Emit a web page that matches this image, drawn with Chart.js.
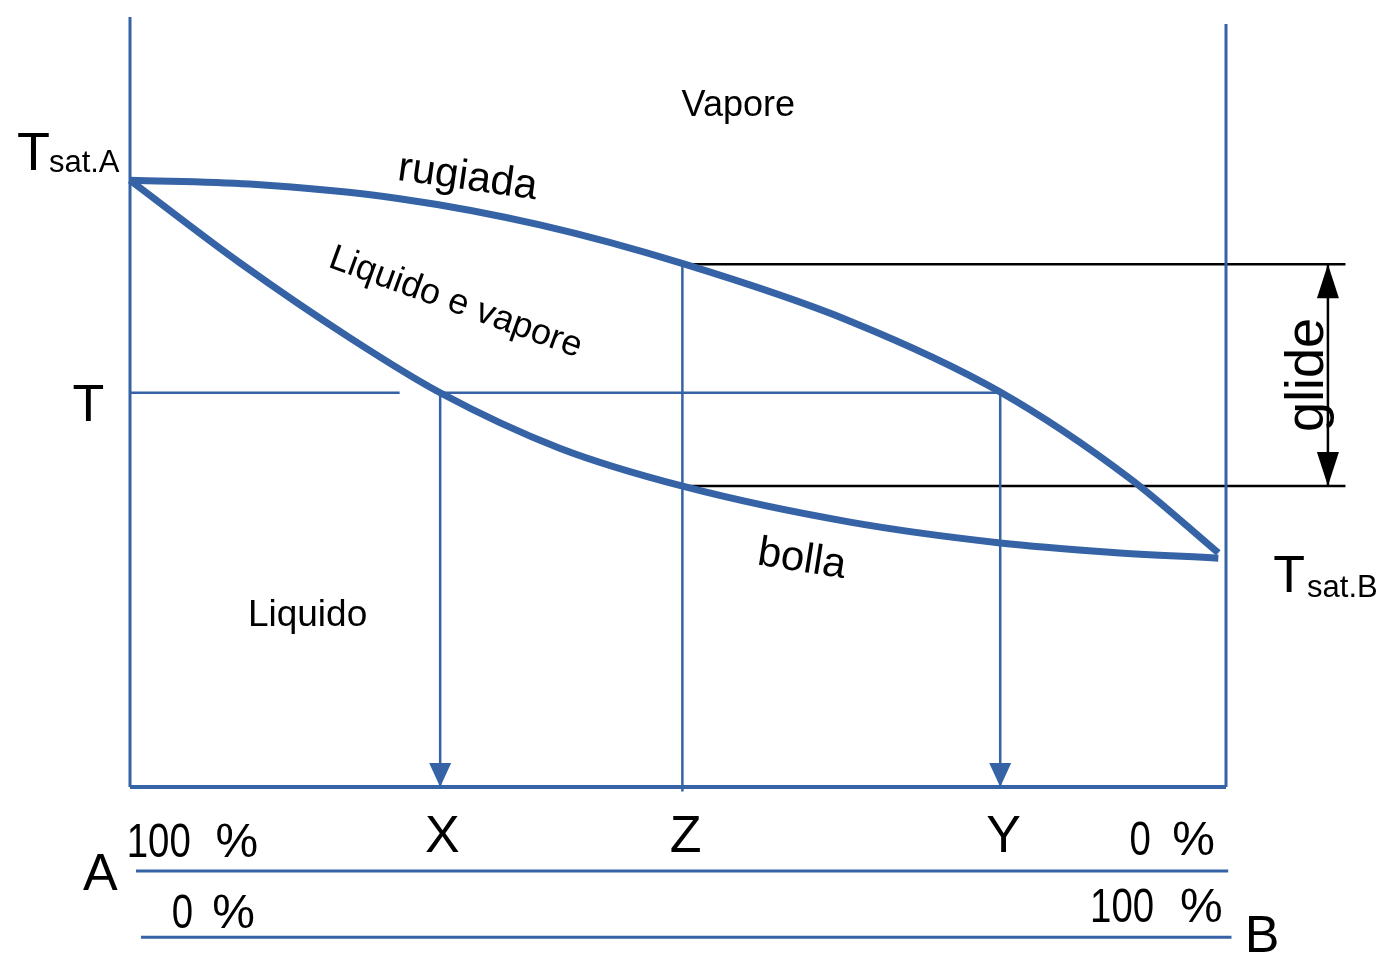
<!DOCTYPE html>
<html>
<head>
<meta charset="utf-8">
<script src="https://cdn.jsdelivr.net/npm/chart.js@4/dist/chart.umd.min.js"></script>
<style>
  body { margin: 0; background: #fff; }
  canvas { display: block; }
</style>
</head>
<body>
<canvas id="diagram__canvas" width="1384" height="955"></canvas>
<script>
// composition of B (%) and temperature (arbitrary units, 0 = base line)
const dewComp = [0, 10.9, 24.6, 37.4, 50.6, 65.7, 79.4, 91.2, 99.3];
const dewTemp = [78.8, 78.3, 76.4, 73.0, 67.9, 60.5, 51.3, 40.1, 30.4];
const bubbleComp = [0, 10.0, 20.1, 28.3, 39.2, 50.6, 65.7, 79.4, 89.4, 99.3];
const bubbleTemp = [78.8, 68.1, 58.3, 51.2, 44.0, 39.0, 34.4, 31.7, 30.5, 29.7];

// the reading points
const tLevel = 51.2;
const xComp = 28.3;
const zComp = 50.4;
const yComp = 79.4;
const glideTop = 67.9;
const glideBottom = 39.1;

const BLUE = "#3563a5";
const FONT = "'Liberation Sans', Arial, sans-serif";

function pts(xs, ys) {
  return xs.map((x, i) => ({ x: x, y: ys[i] }));
}

function seg(x1, y1, x2, y2, color, width, extra) {
  return Object.assign({
    data: [{ x: x1, y: y1 }, { x: x2, y: y2 }],
    borderColor: color,
    backgroundColor: color,
    borderWidth: width,
    pointRadius: 0,
    showLine: true,
    clip: false,
  }, extra || {});
}

// text annotations, placed in data units
const annotations = [
  { text: "T", x: -10.3, y: 80.1, size: 54 },
  { text: "sat.A", x: -7.4, y: 79.9, size: 31 },
  { text: "T", x: -3.8, y: 47.5, size: 52, align: "center" },
  { text: "T", x: 104.3, y: 25.3, size: 52 },
  { text: "sat.B", x: 107.4, y: 24.7, size: 31 },
  { text: "Vapore", x: 55.5, y: 88.4, size: 36, align: "center", base: "middle" },
  { text: "rugiada", x: 30.8, y: 79.1, size: 42, align: "center", base: "middle", rot: 8 },
  { text: "Liquido e vapore", x: 29.7, y: 62.9, size: 36, align: "center", base: "middle", rot: 20 },
  { text: "bolla", x: 61.3, y: 29.5, size: 42, align: "center", base: "middle", rot: 9 },
  { text: "Liquido", x: 16.2, y: 22.2, size: 37, align: "center", base: "middle" },
  { text: "glide", x: 107.5, y: 53.5, size: 54, align: "center", base: "middle", rot: -90 },
  { text: "X", x: 28.5, y: -8.4, size: 52, align: "center" },
  { text: "Z", x: 50.7, y: -8.4, size: 52, align: "center" },
  { text: "Y", x: 79.7, y: -8.4, size: 52, align: "center" },
  { text: "A", x: -2.7, y: -13.4, size: 52, align: "center" },
  { text: "B", x: 103.3, y: -21.4, size: 52, align: "center" },
  { text: "100", x: -0.3, y: -9.1, size: 48, sx: 0.8 },
  { text: "%", x: 7.8, y: -9.1, size: 48 },
  { text: "0", x: 91.2, y: -8.8, size: 48, sx: 0.8 },
  { text: "%", x: 95.1, y: -8.8, size: 48 },
  { text: "0", x: 3.8, y: -18.3, size: 48, sx: 0.8 },
  { text: "%", x: 7.5, y: -18.3, size: 48 },
  { text: "100", x: 87.6, y: -17.5, size: 48, sx: 0.8 },
  { text: "%", x: 95.8, y: -17.5, size: 48 },
];

const arrowPlugin = {
  id: "arrows",
  afterDatasetsDraw(chart) {
    const ctx = chart.ctx;
    chart.data.datasets.forEach((ds, i) => {
      if (!ds.arrowEnd && !ds.arrowStart) return;
      const p = chart.getDatasetMeta(i).data;
      const heads = [];
      if (ds.arrowEnd) heads.push([p[p.length - 1], p[p.length - 2]]);
      if (ds.arrowStart) heads.push([p[0], p[1]]);
      heads.forEach(([tip, from]) => {
        const a = Math.atan2(tip.y - from.y, tip.x - from.x);
        const len = ds.arrowLength, half = ds.arrowWidth / 2;
        ctx.save();
        ctx.translate(tip.x, tip.y);
        ctx.rotate(a);
        ctx.beginPath();
        ctx.moveTo(0, 0);
        ctx.lineTo(-len, -half);
        ctx.lineTo(-len, half);
        ctx.closePath();
        ctx.fillStyle = ds.borderColor;
        ctx.fill();
        ctx.restore();
      });
    });
  },
};

const textPlugin = {
  id: "texts",
  afterDraw(chart) {
    const ctx = chart.ctx;
    const xs = chart.scales.x, ys = chart.scales.y;
    annotations.forEach((t) => {
      ctx.save();
      ctx.translate(xs.getPixelForValue(t.x), ys.getPixelForValue(t.y));
      if (t.rot) ctx.rotate((t.rot * Math.PI) / 180);
      if (t.sx) ctx.scale(t.sx, 1);
      ctx.font = t.size + "px " + FONT;
      ctx.fillStyle = "#000";
      ctx.textAlign = t.align || "left";
      ctx.textBaseline = t.base || "alphabetic";
      ctx.fillText(t.text, 0, 0);
      ctx.restore();
    });
  },
};

function makeChart() {
  const CANVAS_CTX = document.getElementById("diagram__canvas").getContext("2d");
  return new Chart(CANVAS_CTX, {
    type: "scatter",
    data: {
      datasets: [
        {
          label: "rugiada",
          data: pts(dewComp, dewTemp),
          showLine: true,
          borderColor: BLUE,
          borderWidth: 7,
          pointRadius: 0,
          cubicInterpolationMode: "monotone",
          borderCapStyle: "butt",
          clip: false,
        },
        {
          label: "bolla",
          data: pts(bubbleComp, bubbleTemp),
          showLine: true,
          borderColor: BLUE,
          borderWidth: 7,
          pointRadius: 0,
          cubicInterpolationMode: "monotone",
          borderCapStyle: "butt",
          clip: false,
        },
        seg(0, 0, 0, 100, BLUE, 3),
        seg(100, 0, 100, 99.1, BLUE, 3),
        seg(0, 0, 100, 0, BLUE, 4),
        seg(0, tLevel, 24.6, tLevel, BLUE, 2.5),
        seg(27.8, tLevel, yComp, tLevel, BLUE, 2.5),
        seg(xComp, tLevel, xComp, 0, BLUE, 2.5, { arrowEnd: true, arrowLength: 24, arrowWidth: 22 }),
        seg(zComp, glideTop, zComp, -0.6, BLUE, 2.5),
        seg(yComp, tLevel, yComp, 0, BLUE, 2.5, { arrowEnd: true, arrowLength: 24, arrowWidth: 22 }),
        seg(51.1, glideTop, 110.9, glideTop, "#000", 2.5),
        seg(51.1, glideBottom, 110.9, glideBottom, "#000", 2.5),
        seg(109.3, glideBottom, 109.3, glideTop, "#000", 2.5, { arrowEnd: true, arrowStart: true, arrowLength: 34, arrowWidth: 22 }),
        seg(0.55, -10.9, 100.2, -10.9, BLUE, 3),
        seg(1.0, -19.5, 100.5, -19.5, BLUE, 3),
      ],
    },
    options: {
      responsive: false,
      animation: false,
      layout: { padding: { left: 130, right: 158, top: 17, bottom: 168 } },
      scales: {
        x: { type: "linear", min: 0, max: 100, display: false },
        y: { type: "linear", min: 0, max: 100, display: false },
      },
      plugins: {
        legend: { display: false },
        tooltip: { enabled: false },
      },
    },
    plugins: [arrowPlugin, textPlugin],
  });
}

makeChart();
</script>
</body>
</html>
